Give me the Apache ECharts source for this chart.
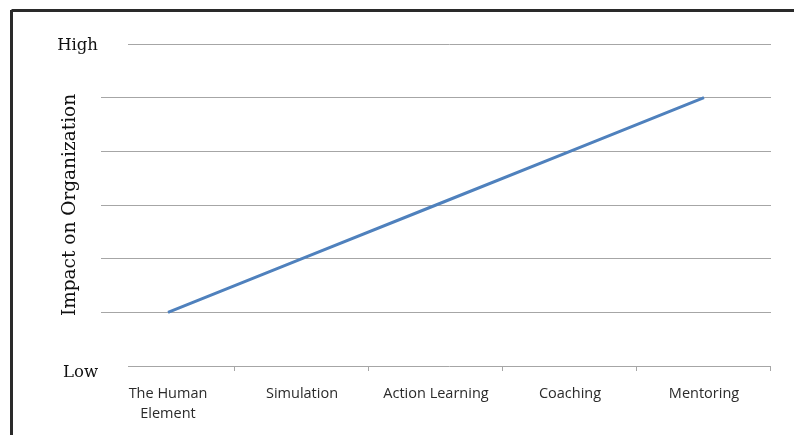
<!DOCTYPE html>
<html>
<head>
<meta charset="utf-8">
<script src="https://cdn.jsdelivr.net/npm/echarts@6/dist/echarts.min.js"></script>
<style>
html, body { margin: 0; padding: 0; background: #fff; }
#main { width: 794px; height: 435px; }
</style>
</head>
<body>
<div id="main"></div>
<script>
var categories = ['The Human\nElement', 'Simulation', 'Action Learning', 'Coaching', 'Mentoring'];
var impact = [1, 2, 3, 4, 5];
var levelLabels = { 0: '{low|Low}', 6: '{high|High}' };

var myChart = echarts.init(document.getElementById('main'));
var gridColor = '#a6a6a6';

option = {
    animation: false,
    grid: { left: 101, right: 23, top: 44, bottom: 69 },
    xAxis: {
        type: 'category',
        data: categories,
        boundaryGap: true,
        axisLine: { show: false },
        axisTick: { show: false },
        axisLabel: {
            margin: 18,
            fontFamily: 'Open Sans',
            fontSize: 14.5,
            color: '#2b2b2b',
            lineHeight: 20,
            interval: 0
        }
    },
    yAxis: {
        type: 'value',
        min: 0,
        max: 6,
        interval: 1,
        name: 'Impact on Organization',
        nameLocation: 'middle',
        nameGap: 21,
        nameMoveOverlap: false,
        nameTextStyle: { fontFamily: 'DejaVu Serif', fontSize: 18.5, color: '#111' },
        axisLine: { show: false },
        axisTick: { show: false },
        axisLabel: {
            margin: 3,
            fontFamily: 'DejaVu Serif',
            fontSize: 16.5,
            color: '#111',
            formatter: function (v) { return levelLabels[v] || ''; },
            rich: {
                low: { fontFamily: 'DejaVu Serif', fontSize: 16.5, color: '#111', padding: [14, 0, 0, 0] },
                high: { fontFamily: 'DejaVu Serif', fontSize: 16.5, color: '#111', padding: [3, 0, 0, 0] }
            }
        },
        splitLine: {
            lineStyle: {
                color: ['transparent', gridColor, gridColor, gridColor, gridColor, gridColor, 'transparent'],
                width: 1
            }
        }
    },
    graphic: [
        // frame
        { type: 'line', shape: { x1: 11.5, y1: 10.5, x2: 794, y2: 10.5 }, style: { stroke: '#2a2a2a', lineWidth: 3 } },
        { type: 'line', shape: { x1: 11.5, y1: 10, x2: 11.5, y2: 435 }, style: { stroke: '#2a2a2a', lineWidth: 3 } },
        // top line and axis line start further right
        { type: 'line', shape: { x1: 128, y1: 44.5, x2: 771, y2: 44.5 }, style: { stroke: gridColor, lineWidth: 1 } },
        { type: 'line', shape: { x1: 128, y1: 366.5, x2: 771, y2: 366.5 }, style: { stroke: gridColor, lineWidth: 1 } },
        { type: 'line', shape: { x1: 234.5, y1: 366, x2: 234.5, y2: 371 }, style: { stroke: gridColor, lineWidth: 1 } },
        { type: 'line', shape: { x1: 368.5, y1: 366, x2: 368.5, y2: 371 }, style: { stroke: gridColor, lineWidth: 1 } },
        { type: 'line', shape: { x1: 502.5, y1: 366, x2: 502.5, y2: 371 }, style: { stroke: gridColor, lineWidth: 1 } },
        { type: 'line', shape: { x1: 636.5, y1: 366, x2: 636.5, y2: 371 }, style: { stroke: gridColor, lineWidth: 1 } },
        { type: 'line', shape: { x1: 770.5, y1: 366, x2: 770.5, y2: 371 }, style: { stroke: gridColor, lineWidth: 1 } }
    ],
    series: [{
        type: 'line',
        data: impact,
        showSymbol: false,
        symbol: 'none',
        lineStyle: { color: '#4f81bd', width: 3 }
    }]
};
myChart.setOption(option);
</script>
</body>
</html>
